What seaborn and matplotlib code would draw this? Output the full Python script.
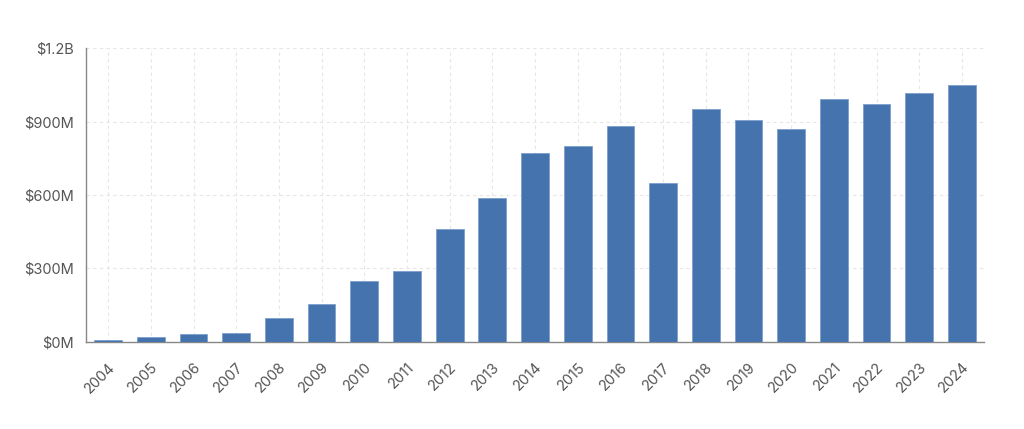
"""
Annual totals by year, bar chart
"""

import matplotlib
matplotlib.use('Agg')
import matplotlib.pyplot as plt
import pandas as pd
import seaborn as sns


years = [str(y) for y in range(2004, 2025)]
values_musd = [6, 19, 33, 37, 98, 154, 248, 291, 461, 589, 772,
               801, 883, 650, 951, 905, 871, 991, 973, 1015, 1048]
ytick_vals = [0, 300, 600, 900, 1200]
ytick_labels = ['$0M', '$300M', '$600M', '$900M', '$1.2B']

BAR_COLOR = '#4573ad'
TEXT_COLOR = '#555555'
AXIS_COLOR = '#888888'
GRID_COLOR = '#e6e6e6'


def make_plot():
    df = pd.DataFrame({'year': years, 'value': values_musd})

    sns.set_style('white')
    plt.rcParams['font.family'] = ['Inter', 'DejaVu Sans']

    fig = plt.figure(figsize=(10.24, 4.29), dpi=100)
    ax = fig.add_axes([0.084, 0.203, 0.877, 0.685])

    sns.barplot(data=df, x='year', y='value', color=BAR_COLOR,
                width=0.65, saturation=1, edgecolor='#7d9fcc',
                linewidth=0.6, ax=ax, zorder=3)

    ax.set_ylim(0, 1200)
    ax.set_xlim(-0.52, len(years) - 0.48)
    ax.set_yticks(ytick_vals)
    ax.set_yticklabels(ytick_labels)
    ax.set_xlabel('')
    ax.set_ylabel('')

    # dashed grid in both directions
    ax.grid(True, axis='both', color=GRID_COLOR, linestyle=(0, (3, 3)),
            linewidth=0.8, zorder=0)
    ax.set_axisbelow(True)

    for side in ['top', 'right']:
        ax.spines[side].set_visible(False)
    for side in ['left', 'bottom']:
        ax.spines[side].set_color(AXIS_COLOR)
        ax.spines[side].set_linewidth(1.0)

    ax.tick_params(axis='both', direction='out', length=5, width=0.8,
                   color=AXIS_COLOR, labelcolor=TEXT_COLOR, labelsize=10.5)
    ax.tick_params(axis='y', pad=4)
    ax.tick_params(axis='x', pad=8)
    plt.setp(ax.get_xticklabels(), rotation=45, ha='right',
             rotation_mode='anchor')

    fig.savefig('out.png', dpi=100, facecolor='white')
    plt.close(fig)


if __name__ == '__main__':
    make_plot()
